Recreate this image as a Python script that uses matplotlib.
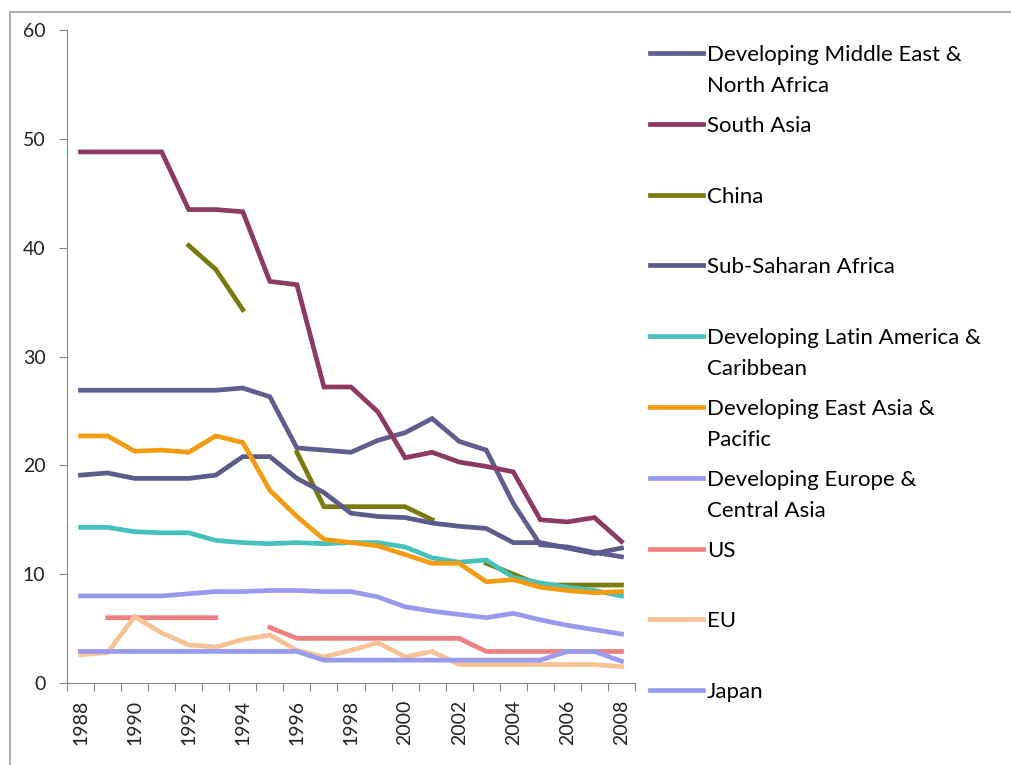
import numpy as np
import matplotlib
matplotlib.use("Agg")
import matplotlib.pyplot as plt
from matplotlib.lines import Line2D
from matplotlib.patches import Rectangle

plt.rcParams['font.family'] = ['Lato', 'DejaVu Sans']

nan = np.nan
years = list(range(1988, 2009))

mena = [26.9, 26.9, 26.9, 26.9, 26.9, 26.9, 27.1, 26.3, 21.6, 21.4, 21.2,
        22.3, 23.0, 24.3, 22.2, 21.4, 16.5, 12.7, 12.5, 12.0, 11.6]
south_asia = [48.8, 48.8, 48.8, 48.8, 43.5, 43.5, 43.3, 36.9, 36.6, 27.2, 27.2,
              24.9, 20.7, 21.2, 20.3, 19.9, 19.4, 15.0, 14.8, 15.2, 13.0]
china = [nan, nan, nan, nan, 40.2, 38.0, 34.3, nan, 21.2, 16.2, 16.2,
         16.2, 16.2, 15.0, nan, 11.0, 10.0, 9.0, 9.0, 9.0, 9.0]
ssa = [19.1, 19.3, 18.8, 18.8, 18.8, 19.1, 20.8, 20.8, 18.8, 17.5, 15.6,
       15.3, 15.2, 14.7, 14.4, 14.2, 12.9, 12.9, 12.4, 11.9, 12.4]
latam = [14.3, 14.3, 13.9, 13.8, 13.8, 13.1, 12.9, 12.8, 12.9, 12.8, 12.9,
         12.9, 12.5, 11.5, 11.1, 11.3, 9.7, 9.2, 8.8, 8.5, 8.0]
east_asia = [22.7, 22.7, 21.3, 21.4, 21.2, 22.7, 22.1, 17.7, 15.3, 13.2, 12.9,
             12.6, 11.8, 11.0, 11.0, 9.3, 9.5, 8.8, 8.5, 8.3, 8.4]
europe = [8.0, 8.0, 8.0, 8.0, 8.2, 8.4, 8.4, 8.5, 8.5, 8.4, 8.4,
          7.9, 7.0, 6.6, 6.3, 6.0, 6.4, 5.8, 5.3, 4.9, 4.5]
us = [nan, 6.0, 6.0, 6.0, 6.0, 6.0, nan, 5.1, 4.1, 4.1, 4.1,
      4.1, 4.1, 4.1, 4.1, 2.9, 2.9, 2.9, 2.9, 2.9, 2.9]
eu = [2.6, 2.8, 6.1, 4.6, 3.5, 3.3, 4.0, 4.4, 3.0, 2.4, 3.0,
      3.7, 2.4, 2.9, 1.7, 1.7, 1.7, 1.7, 1.7, 1.7, 1.5]
japan = [2.9, 2.9, 2.9, 2.9, 2.9, 2.9, 2.9, 2.9, 2.9, 2.1, 2.1,
         2.1, 2.1, 2.1, 2.1, 2.1, 2.1, 2.1, 2.9, 2.9, 2.0]

labels = ["Developing Middle East &\nNorth Africa", "South Asia", "China",
          "Sub-Saharan Africa", "Developing Latin America &\nCaribbean",
          "Developing East Asia &\nPacific", "Developing Europe &\nCentral Asia",
          "US", "EU", "Japan"]
series = [mena, south_asia, china, ssa, latam, east_asia, europe, us, eu, japan]
colors = ["#5E5E90", "#8C3A62", "#7A7A10", "#5B5B8C", "#45C2BC",
          "#F39C12", "#9999EE", "#EF8080", "#F8C394", "#9A9AF0"]

fig = plt.figure(figsize=(10.11, 7.65), dpi=100)
ax = fig.add_axes([67/1011, 1-683/765, (635-67)/1011, (683-30)/765])

x = np.arange(len(years))
for vals, c in zip(series, colors):
    ax.plot(x, vals, color=c, lw=3.4, solid_joinstyle='miter')

ax.set_xlim(-0.5, len(years) - 0.5)
ax.set_ylim(0, 60)
ax.set_yticks(range(0, 61, 10))
ax.set_xticks(np.arange(-0.5, len(years), 1))
ax.set_xticklabels([])
ax.set_xticks(x[::2], minor=True)
ax.set_xticklabels([str(y) for y in years[::2]], minor=True, rotation=90)
ax.tick_params(axis='x', which='minor', length=0, pad=12, labelsize=14,
               labelcolor='#222222')
ax.tick_params(axis='x', which='major', length=6, color='#888888', direction='out')
ax.tick_params(axis='y', length=6, color='#888888', labelsize=14, pad=9.5,
               labelcolor='#222222')
for s in ['top', 'right']:
    ax.spines[s].set_visible(False)
for s in ['left', 'bottom']:
    ax.spines[s].set_color('#888888')

# legend drawn beside the axes, handle aligned with first text line
for i, (lab, c) in enumerate(zip(labels, colors)):
    ypx = 53 + i * 70.8
    yy = 1 - ypx / 765
    fig.add_artist(Line2D([650/1011, 703/1011], [yy, yy], color=c, lw=3.4,
                          transform=fig.transFigure))
    for k, line in enumerate(lab.split('\n')):
        fig.text(707/1011, 1 - (ypx + 2 + k * 31) / 765, line, va='center',
                 ha='left', fontsize=16)

fig.add_artist(Rectangle((10/1011, -0.1), 1.2, 1 - 12/765 + 0.1, fill=False,
                         edgecolor='#A0A0A0', lw=1.2, transform=fig.transFigure))

fig.savefig("out.png", dpi=100)
